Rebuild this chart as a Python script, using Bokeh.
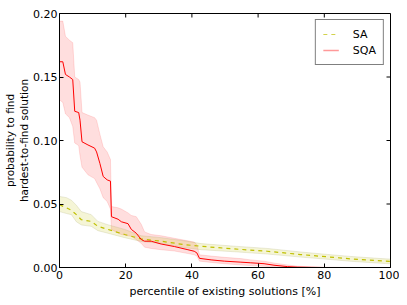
import math
from bokeh.plotting import figure
from bokeh.models import Range1d, Legend, LegendItem, FixedTicker
from bokeh.embed import file_html
from bokeh.resources import INLINE

# ---- data ----
sqa_x = [0, 1, 1.8, 3, 4, 4.6, 5.8, 6.2, 6.8, 8.6, 10.6, 11.2, 12.2, 13.2, 14.4, 15.4, 15.7,
         17.7, 18.7, 20.7, 21.7, 23.2, 24.7, 25.7, 27.7, 30.7, 34.7, 38.8, 40.7, 41.5, 42.3,
         45.8, 49.8, 54.8, 57.8, 61.8, 64.8, 68.9, 72, 76, 80, 90, 100]
sqa_mean = [0.162, 0.162, 0.152, 0.150, 0.148, 0.123, 0.122, 0.116, 0.099, 0.0965, 0.094, 0.091,
            0.082, 0.0717, 0.069, 0.068, 0.040, 0.038, 0.036, 0.0345, 0.030, 0.027, 0.022, 0.0207,
            0.0207, 0.0185, 0.0165, 0.014, 0.0128, 0.0115, 0.0072, 0.006, 0.005, 0.0042, 0.0037,
            0.003, 0.0018, 0.0007, 0.0003, 0.0001, 0.0, 0.0, 0.0]
sqa_hi = [0.194, 0.194, 0.182, 0.179, 0.177, 0.150, 0.148, 0.146, 0.122, 0.120, 0.118, 0.116,
          0.105, 0.095, 0.091, 0.085, 0.048, 0.047, 0.046, 0.043, 0.041, 0.040, 0.034, 0.028,
          0.026, 0.025, 0.023, 0.021, 0.020, 0.018, 0.010, 0.009, 0.008, 0.007, 0.006, 0.005,
          0.0035, 0.002, 0.001, 0.0005, 0.0002, 0.0, 0.0]
sqa_lo = [0.132, 0.130, 0.121, 0.118, 0.111, 0.098, 0.096, 0.088, 0.079, 0.073, 0.070, 0.067,
          0.062, 0.055, 0.052, 0.046, 0.030, 0.027, 0.026, 0.025, 0.0245, 0.022, 0.019, 0.016,
          0.015, 0.014, 0.013, 0.011, 0.010, 0.009, 0.005, 0.004, 0.003, 0.002, 0.0015, 0.001,
          0.0003, 0.0, 0.0, 0.0, 0.0, 0.0, 0.0]

sa_x = [0, 2.1, 3.6, 5.1, 6.6, 9.6, 11.6, 14.6, 19.7, 24.7, 30.7, 37.7, 42.8, 52.8, 62.8,
        72.9, 80.9, 88, 98.5, 100]
sa_mean = [0.0494, 0.047, 0.045, 0.0416, 0.0376, 0.0363, 0.0324, 0.030, 0.026, 0.0225, 0.0207,
           0.018, 0.0167, 0.0146, 0.0128, 0.0102, 0.0084, 0.0068, 0.005, 0.0048]
sa_hi = [0.056, 0.055, 0.053, 0.049, 0.044, 0.0416, 0.0363, 0.0337, 0.030, 0.025, 0.0235, 0.021,
         0.0188, 0.0168, 0.015, 0.0122, 0.0103, 0.0087, 0.0068, 0.0066]
sa_lo = [0.044, 0.0425, 0.0416, 0.036, 0.0335, 0.0324, 0.029, 0.027, 0.0235, 0.0205, 0.019,
         0.0157, 0.014, 0.0124, 0.0106, 0.0082, 0.0065, 0.0049, 0.0031, 0.003]

x_ticks = [0, 20, 40, 60, 80, 100]
y_ticks = [0.0, 0.05, 0.10, 0.15, 0.20]
y_tick_labels = ["0.00", "0.05", "0.10", "0.15", "0.20"]

FONT = "DejaVu Sans"
FS = "11px"

X0, X1, Y0, Y1 = 0, 100, 0.0, 0.2

p = figure(width=399, height=300, output_backend="svg", toolbar_location=None,
           x_range=Range1d(X0, X1), y_range=Range1d(Y0, Y1),
           min_border_left=4, min_border_right=9, min_border_top=13, min_border_bottom=10)
p.grid.visible = False
p.outline_line_color = "black"
p.outline_line_width = 1

# bands
p.varea(x=sqa_x, y1=sqa_lo, y2=sqa_hi, fill_color="#ff0000", fill_alpha=0.13)
p.line(sqa_x, sqa_hi, line_color="#ff0000", line_alpha=0.12, line_width=1)
p.line(sqa_x, sqa_lo, line_color="#ff0000", line_alpha=0.12, line_width=1)
p.varea(x=sa_x, y1=sa_lo, y2=sa_hi, fill_color="#bfbf00", fill_alpha=0.16)
p.line(sa_x, sa_hi, line_color="#a0a060", line_alpha=0.2, line_width=1)
p.line(sa_x, sa_lo, line_color="#a0a060", line_alpha=0.2, line_width=1)

# main lines
p.line(sa_x, sa_mean, line_color="#bfbf00", line_width=1.2, line_dash="4 4")
p.line(sqa_x, sqa_mean, line_color="#ff0000", line_width=1)

# inward ticks on top and right sides (matplotlib classic style)
p.ray(x=x_ticks, y=[Y1] * len(x_ticks), length=4, length_units="screen",
      angle=-math.pi / 2, line_color="black", line_width=1)
p.ray(x=[X1] * len(y_ticks), y=y_ticks, length=4, length_units="screen",
      angle=math.pi, line_color="black", line_width=1)

# legend proxies
r_sa = p.line([0], [0], line_color="#bfbf00", line_width=1.2, line_dash="4 4", line_alpha=0.7)
r_sqa = p.line([0], [0], line_color="#ff0000", line_width=1.5, line_alpha=0.4)
legend = Legend(items=[LegendItem(label="SA", renderers=[r_sa]),
                       LegendItem(label="SQA", renderers=[r_sqa])],
                location="top_right", margin=6, padding=7, spacing=2,
                glyph_width=16, glyph_height=14, label_standoff=14,
                label_text_font=FONT, label_text_font_size=FS, label_text_color="black",
                border_line_color="black", border_line_width=1,
                background_fill_alpha=1)
p.add_layout(legend)

def style_axis(ax):
    ax.major_tick_in = 4
    ax.major_tick_out = 0
    ax.minor_tick_line_color = None
    ax.axis_line_color = "black"
    ax.major_tick_line_color = "black"
    ax.major_label_text_font = FONT
    ax.major_label_text_font_size = FS
    ax.major_label_text_color = "black"
    ax.major_label_standoff = 3
    ax.axis_label_text_font = FONT
    ax.axis_label_text_font_size = FS
    ax.axis_label_text_color = "black"
    ax.axis_label_text_font_style = "normal"
    ax.axis_label_standoff = 0

xa = p.xaxis[0]
xa.ticker = FixedTicker(ticks=x_ticks)
xa.axis_label = "percentile of existing solutions [%]"
style_axis(xa)
xa.axis_label_standoff = 3
ya = p.yaxis[0]
ya.ticker = FixedTicker(ticks=y_ticks)
ya.major_label_overrides = {t: s for t, s in zip(y_ticks, y_tick_labels)}
ya.axis_label = "probability to find\nhardest-to-find solution"
style_axis(ya)
ya.major_label_standoff = 2
ya.axis_label_text_font_size = "10.5px"

open("out.html", "w").write(file_html(p, INLINE))
